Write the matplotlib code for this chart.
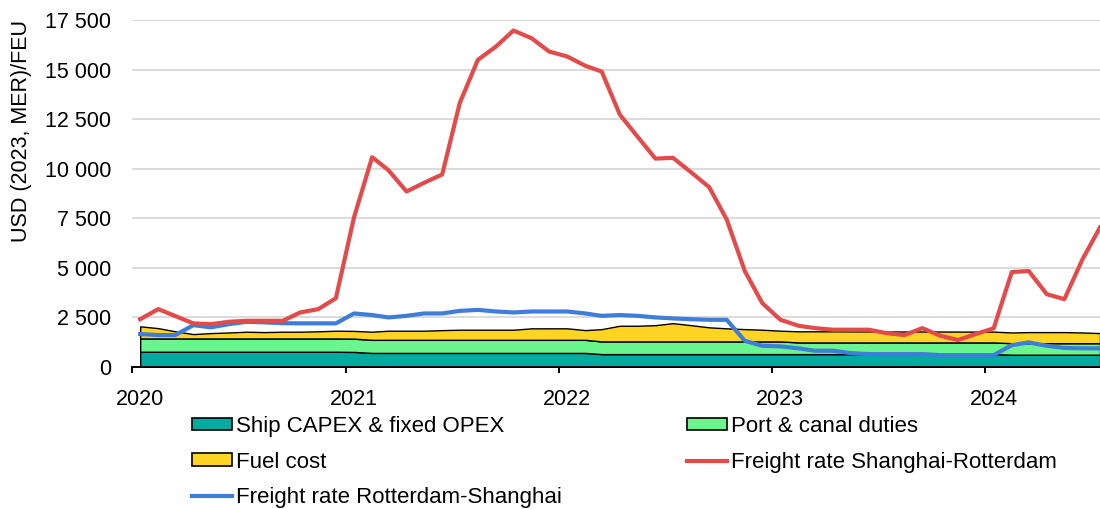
import matplotlib
matplotlib.use("Agg")
import matplotlib.pyplot as plt
import matplotlib.transforms as mtransforms
import matplotlib.dates as mdates
from matplotlib.patches import Patch
from matplotlib.lines import Line2D
from matplotlib.ticker import FuncFormatter
import pandas as pd

plt.rcParams["font.family"] = ["Liberation Sans", "DejaVu Sans"]

# monthly observations, Jan 2020 - Jul 2024 (mid-month)
DATES = pd.date_range("2020-01-01", periods=55, freq="MS") + pd.Timedelta(days=14)

CAPEX = [770] * 12 + [760] + [710] * 13 + [650] * 23 + [620] * 6

PORT = [670] * 13 + [660] * 13 + [640] * 11 + [590] * 12 + [580] * 6

FUEL = [
    610, 520, 360, 220, 270, 300, 340, 320, 340, 340, 360, 390,
    390, 410, 460, 460, 460, 490, 510, 510, 510, 510, 580, 580,
    580, 490, 620, 790, 790, 820, 920, 820, 710, 660, 620, 590,
    540, 560, 560, 560, 555, 555, 550, 550, 550, 550, 545, 545,
    545, 540, 560, 560, 560, 540, 510,
]

SHA_RTM = [
    2410, 2920, 2570, 2200, 2160, 2280, 2330, 2330, 2330, 2750, 2920, 3470,
    7540, 10580, 9925, 8850, 9290, 9710, 13310, 15490, 16160, 16970, 16580, 15910,
    15660, 15190, 14900, 12730, 11630, 10510, 10550, 9820, 9070, 7440, 4840, 3220,
    2380, 2080, 1960, 1880, 1880, 1880, 1710, 1610, 1960, 1580, 1360, 1660,
    1950, 4790, 4840, 3670, 3420, 5430, 7040,
]

RTM_SHA = [
    1660, 1610, 1610, 2110, 2000, 2160, 2280, 2250, 2210, 2200, 2200, 2200,
    2700, 2620, 2500, 2580, 2700, 2700, 2830, 2880, 2800, 2750, 2800, 2800,
    2800, 2700, 2580, 2620, 2580, 2500, 2450, 2410, 2380, 2380, 1320, 1070,
    1040, 940, 820, 820, 700, 650, 650, 650, 650, 600, 600, 600,
    600, 1100, 1240, 1070, 960, 940, 940,
]

LABELS = [
    "Ship CAPEX & fixed OPEX",
    "Port & canal duties",
    "Fuel cost",
    "Freight rate Shanghai-Rotterdam",
    "Freight rate Rotterdam-Shanghai",
]
COLORS = ["#00AB9F", "#6AF58F", "#FFD424", "#E34A4A", "#3F7ED8"]

FS = 15.5
LEG_FS = 16


def main() -> None:
    fig = plt.figure(figsize=(11, 5.09), dpi=100)
    ax = fig.add_axes([0.12, 1 - 367 / 509, 0.88, 347 / 509])

    ax.stackplot(DATES, CAPEX, PORT, FUEL, colors=COLORS[:3],
                 edgecolor="black", linewidth=1.0, zorder=2)
    ax.plot(DATES, RTM_SHA, color=COLORS[4], lw=3, zorder=3, solid_joinstyle="round")
    ax.plot(DATES, SHA_RTM, color=COLORS[3], lw=3, zorder=4, solid_joinstyle="round")

    ax.set_ylim(0, 17500)
    ax.set_xlim(pd.Timestamp("2020-01-01"), DATES[-1])
    ax.set_yticks(range(0, 17501, 2500))
    ax.yaxis.set_major_formatter(FuncFormatter(lambda v, _: f"{v:,.0f}".replace(",", " ")))
    ax.grid(axis="y", color="#D9D9D9", lw=1.3, zorder=0)
    ax.set_axisbelow(True)

    ax.xaxis.set_major_locator(mdates.YearLocator())
    ax.xaxis.set_major_formatter(mdates.DateFormatter("%Y"))

    for side in ("top", "right", "left"):
        ax.spines[side].set_visible(False)
    ax.spines["bottom"].set_linewidth(1.4)
    ax.spines["bottom"].set_zorder(5)

    ax.tick_params(axis="y", length=0, pad=15, labelsize=FS)
    ax.tick_params(axis="x", length=4.5, width=1.4, pad=11.5, labelsize=FS, direction="out")
    offset = mtransforms.ScaledTranslation(8 / 100, 0, fig.dpi_scale_trans)
    for lbl in ax.get_xticklabels():
        lbl.set_transform(lbl.get_transform() + offset)

    ax.set_ylabel("USD (2023, MER)/FEU", fontsize=FS)
    ax.yaxis.set_label_coords(-0.103, 0.68)

    patches = [Patch(facecolor=c, edgecolor="black", linewidth=1.2) for c in COLORS[:3]]
    lines = [Line2D([0], [0], color=c, lw=3) for c in COLORS[3:]]
    handles = [patches[0], patches[2], lines[1], patches[1], lines[0]]
    labels = [LABELS[0], LABELS[2], LABELS[4], LABELS[1], LABELS[3]]
    fig.legend(handles, labels, loc="upper left", bbox_to_anchor=(192 / 1100, 1 - 416 / 509),
               ncol=2, frameon=False, fontsize=LEG_FS, borderpad=0, borderaxespad=0,
               handlelength=1.8, handleheight=0.5, handletextpad=0.2,
               labelspacing=0.66, columnspacing=5.6)

    fig.savefig("out.png", dpi=100)
    plt.close(fig)


if __name__ == "__main__":
    main()
